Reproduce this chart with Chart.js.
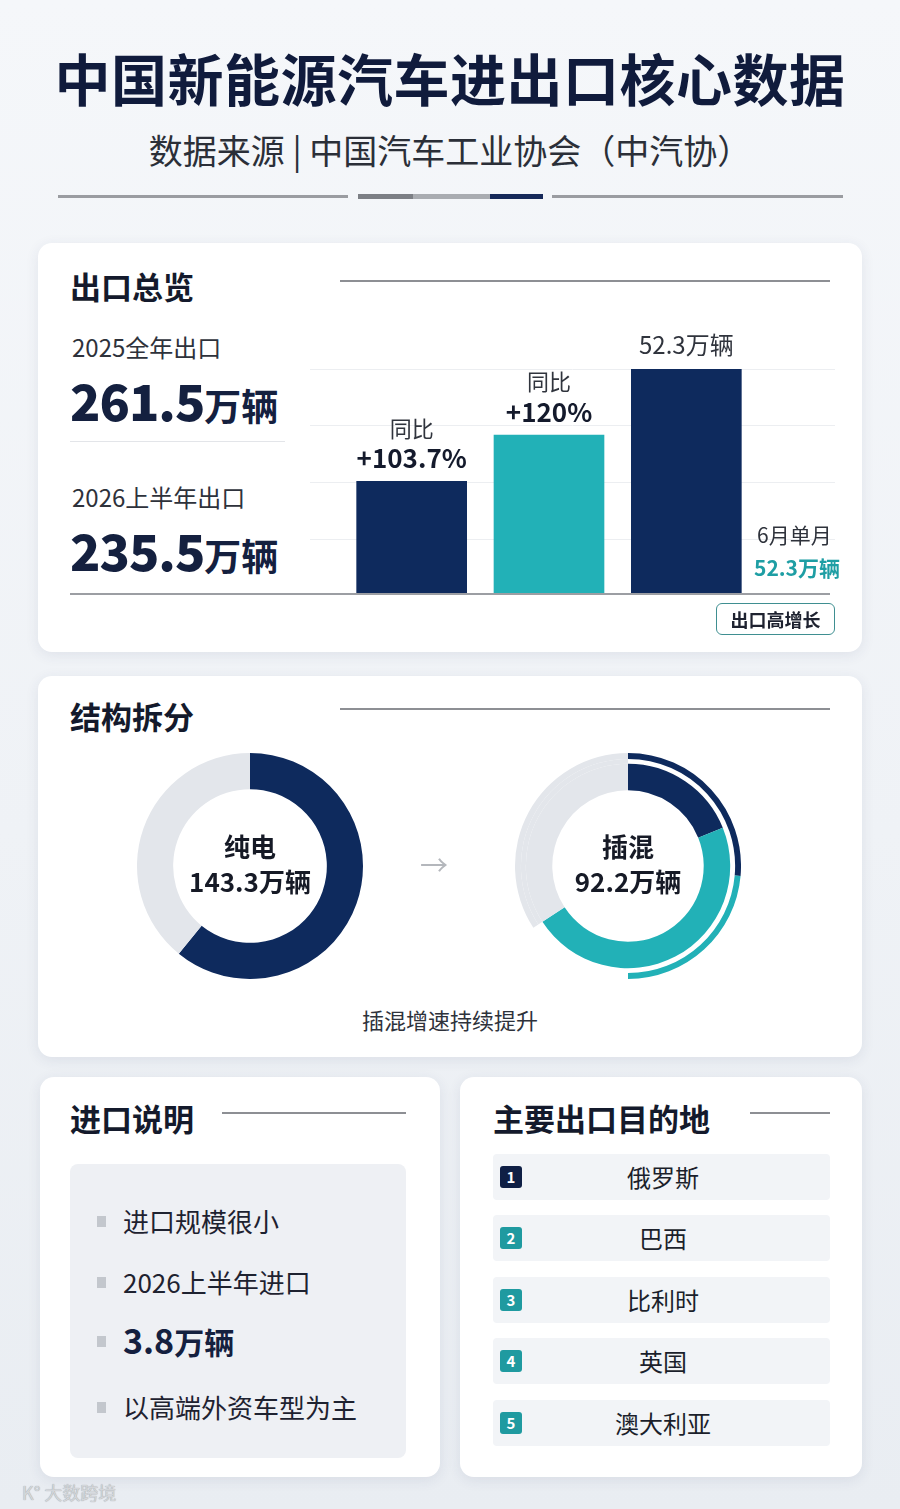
<!doctype html>
<html>
<head>
<meta charset="utf-8">
<title>中国新能源汽车进出口核心数据</title>
<script src="https://cdn.jsdelivr.net/npm/chart.js@4.4.0/dist/chart.umd.min.js"></script>
<style>
  body{margin:0;width:900px;height:1509px;position:relative;overflow:hidden;
    background:linear-gradient(180deg,#f5f7fa 0%,#eff2f6 55%,#e9edf2 100%);
    font-family:"Noto Sans CJK SC","Noto Sans",sans-serif;color:#1b1f2b}
  .a{position:absolute;line-height:1;white-space:nowrap}
  .card{position:absolute;background:#fff;border-radius:14px;box-shadow:0 3px 14px rgba(40,60,100,.09)}
  .h{font-weight:700;font-size:31px;color:#141a2c}
  .rule{position:absolute;height:2px;background:#8d8f94}
  .big{font-weight:700;color:#14203f;display:flex;align-items:baseline;height:50px}
  .big b{font-size:50px;letter-spacing:-1px;line-height:1}
  .big span{font-size:37px;line-height:1}
  .row{position:absolute;left:493px;width:337px;height:46px;background:#f2f4f7;border-radius:4px}
  .num{position:absolute;left:7px;top:12px;width:22px;height:22px;border-radius:3px;color:#fff;
    font-weight:700;font-size:15px;line-height:22px;text-align:center}
  .cty{position:absolute;left:0;width:340px;top:11px;text-align:center;font-size:24px;line-height:1;color:#1b1f2b}
  .bul{position:absolute;left:97px;width:9px;height:11px;background:#c3c7cd}
  .btxt{position:absolute;left:123px;font-size:26px;line-height:1;color:#1e2230}
  .ctr{position:absolute;width:226px;text-align:center;font-size:26px;font-weight:700;color:#161a26;line-height:1}
</style>
</head>
<body>

<div class="a" style="left:0;width:900px;top:49px;text-align:center;font-size:56px;font-weight:700;color:#101b3c;letter-spacing:0.5px">中国新能源汽车进出口核心数据</div>
<div class="a" style="left:0;width:900px;top:133px;text-align:center;font-size:34px;color:#2b2f38">数据来源&nbsp;|&nbsp;中国汽车工业协会（中汽协）</div>
<div class="a" style="left:58px;top:195px;width:290px;height:3px;background:#9a9ca1"></div>
<div class="a" style="left:358px;top:194px;width:55px;height:5px;background:#7c7f85"></div>
<div class="a" style="left:413px;top:194px;width:77px;height:5px;background:#a9acb1"></div>
<div class="a" style="left:490px;top:194px;width:53px;height:5px;background:#16295a"></div>
<div class="a" style="left:552px;top:195px;width:291px;height:3px;background:#9a9ca1"></div>

<!-- 出口总览 -->
<div class="card" style="left:38px;top:243px;width:824px;height:409px"></div>
<div class="a h" style="left:70px;top:270px">出口总览</div>
<div class="rule" style="left:340px;top:280px;width:490px"></div>
<div class="a" style="left:72px;top:335px;font-size:24px;color:#2e323b">2025全年出口</div>
<div class="a big" style="left:70px;top:374px"><b>261.5</b><span>万辆</span></div>
<div class="a" style="left:70px;top:441px;width:215px;height:1px;background:#e3e5e9"></div>
<div class="a" style="left:72px;top:485px;font-size:24px;color:#2e323b">2026上半年出口</div>
<div class="a big" style="left:70px;top:524px"><b>235.5</b><span>万辆</span></div>
<div id="barBox" class="a" style="left:310px;top:299px;width:525px;height:296px"><canvas id="bars"></canvas></div>
<div class="a" style="left:70px;top:593px;width:760px;height:2px;background:#9c9ea3"></div>
<div class="a" style="left:757px;top:524px;font-size:21px;color:#2e323b">6月单月</div>
<div class="a" style="left:754px;top:557px;font-size:21px;font-weight:700;color:#1e9ea4">52.3万辆</div>
<div class="a" style="left:716px;top:603px;width:117px;height:30px;border:1.5px solid #3f8f91;border-radius:6px;text-align:center;font-size:18px;font-weight:700;line-height:30px;color:#1e2230">出口高增长</div>

<!-- 结构拆分 -->
<div class="card" style="left:38px;top:676px;width:824px;height:381px"></div>
<div class="a h" style="left:70px;top:700px">结构拆分</div>
<div class="rule" style="left:340px;top:708px;width:490px"></div>
<div class="a" style="left:137px;top:753px;width:226px;height:226px"><canvas id="bev"></canvas></div>
<div class="ctr" style="left:137px;top:833px">纯电</div>
<div class="ctr" style="left:137px;top:868px">143.3万辆</div>
<div class="a" style="left:515px;top:753px;width:226px;height:226px"><canvas id="phev"></canvas></div>
<div class="ctr" style="left:515px;top:833px">插混</div>
<div class="ctr" style="left:515px;top:868px">92.2万辆</div>
<div class="a" style="left:420px;top:850px;font-size:28px;color:#b4b7bc">→</div>
<div class="a" style="left:0;width:900px;top:1008px;text-align:center;font-size:22px;color:#2e323b">插混增速持续提升</div>

<!-- 进口说明 -->
<div class="card" style="left:40px;top:1077px;width:400px;height:400px"></div>
<div class="a h" style="left:70px;top:1102px">进口说明</div>
<div class="rule" style="left:222px;top:1112px;width:184px"></div>
<div class="a" style="left:70px;top:1164px;width:336px;height:294px;background:#eef0f4;border-radius:8px"></div>
<div id="importList"></div>

<!-- 主要出口目的地 -->
<div class="card" style="left:460px;top:1077px;width:402px;height:400px"></div>
<div class="a h" style="left:493px;top:1102px">主要出口目的地</div>
<div class="rule" style="left:750px;top:1112px;width:80px"></div>
<div id="destList"></div>

<div class="a" style="left:22px;top:1483px;font-size:18px;color:#d3d6da;text-shadow:0 0 1px #8d9097">K°&nbsp;大数跨境</div>

<script>
// 出口柱状（无坐标轴，数值按柱高估读）
const barCats = ['同比+103.7%', '同比+120%', '6月单月'];
const barValues = [26.3, 37.0, 52.3];
const barTopLabels = ['同比', '同比', ''];
const barMainLabels = ['+103.7%', '+120%', '52.3万辆'];

// 结构拆分
const bevParts = ['纯电', '插混'];
const bevValues = [143.3, 92.2];
// 插混环（按图中弧长估读，%）
const phevInner = [18.9, 46.9, 34.2];
const phevOuter = [26.4, 23.6, 15.8, 34.2];
const phevGap = [65.8, 34.2];

// 文字列表
const importNotes = ['进口规模很小', '2026上半年进口', '3.8万辆', '以高端外资车型为主'];
const destinations = ['俄罗斯', '巴西', '比利时', '英国', '澳大利亚'];

const NAVY = '#0e2a5d', TEAL = '#22b1b7', GREY = '#e3e6eb';
const FONT = '"Noto Sans CJK SC", "Noto Sans", sans-serif';

// 列表
let imp = document.getElementById('importList');
const impY = [1208, 1269, 1328, 1394];
importNotes.forEach((t, i) => {
  let b = document.createElement('div');
  b.className = 'bul'; b.style.top = (impY[i] + 8) + 'px';
  imp.appendChild(b);
  let d = document.createElement('div');
  d.className = 'btxt'; d.style.top = impY[i] + 'px';
  if (i == 2) {
    d.innerHTML = '<span style="font-size:34px;font-weight:700;color:#14203f">3.8</span><span style="font-size:30px;font-weight:700;color:#14203f">万辆</span>';
    d.style.top = (impY[i] - 5) + 'px';
  } else d.textContent = t;
  imp.appendChild(d);
});
let dest = document.getElementById('destList');
const rowY = [1154, 1215, 1277, 1338, 1400];
destinations.forEach((c, i) => {
  let r = document.createElement('div');
  r.className = 'row'; r.style.top = rowY[i] + 'px';
  r.innerHTML = '<div class="num" style="background:' + (i == 0 ? '#0f1f45' : '#1f9aa0') + '">' + (i + 1) + '</div><div class="cty">' + c + '</div>';
  dest.appendChild(r);
});

// 柱上文字 + 满宽网格线
const barDeco = {
  id: 'barDeco',
  beforeDatasetsDraw(chart) {
    const ctx = chart.ctx, y = chart.scales.y;
    ctx.save();
    ctx.strokeStyle = '#eceef1'; ctx.lineWidth = 1;
    y.ticks.forEach(t => {
      const py = Math.round(y.getPixelForValue(t.value)) + 0.5;
      ctx.beginPath(); ctx.moveTo(0, py); ctx.lineTo(chart.width, py); ctx.stroke();
    });
    ctx.restore();
  },
  afterDatasetsDraw(chart) {
    const ctx = chart.ctx;
    ctx.save();
    ctx.textAlign = 'center'; ctx.textBaseline = 'middle';
    chart.getDatasetMeta(0).data.forEach((bar, i) => {
      if (barTopLabels[i]) {
        ctx.fillStyle = '#30343d'; ctx.font = '22px ' + FONT;
        ctx.fillText(barTopLabels[i], bar.x, bar.y - 53);
        ctx.fillStyle = '#141a2c'; ctx.font = 'bold 26px ' + FONT;
        ctx.fillText(barMainLabels[i], bar.x, bar.y - 23);
      } else {
        ctx.fillStyle = '#30343d'; ctx.font = '24px ' + FONT;
        ctx.fillText(barMainLabels[i], bar.x, bar.y - 24);
      }
    });
    ctx.restore();
  }
};

Chart.defaults.animation = false;
Chart.defaults.font.family = FONT;

new Chart(document.getElementById('bars'), {
  type: 'bar',
  data: {
    labels: barCats,
    datasets: [{ data: barValues, backgroundColor: [NAVY, TEAL, NAVY], barThickness: 110, borderWidth: 0 }]
  },
  options: {
    responsive: true, maintainAspectRatio: false,
    layout: { padding: { top: 70, left: 33, right: 80, bottom: 0 } },
    plugins: { legend: { display: false }, tooltip: { enabled: false } },
    scales: {
      x: { display: false },
      y: { display: false, min: 0, max: 52.3, ticks: { stepSize: 52.3 / 4 } }
    }
  },
  plugins: [barDeco]
});

new Chart(document.getElementById('bev'), {
  type: 'doughnut',
  data: { labels: bevParts, datasets: [{ data: bevValues, backgroundColor: [NAVY, GREY], borderWidth: 0, hoverOffset: 0 }] },
  options: {
    responsive: true, maintainAspectRatio: false, cutout: '68%',
    plugins: { legend: { display: false }, tooltip: { enabled: false } }
  }
});

new Chart(document.getElementById('phev'), {
  type: 'doughnut',
  data: {
    datasets: [
      { data: phevOuter, backgroundColor: [NAVY, TEAL, 'rgba(0,0,0,0)', GREY], borderWidth: 0, weight: 6 },
      { data: phevGap, backgroundColor: ['rgba(0,0,0,0)', GREY], borderWidth: 0, weight: 5 },
      { data: phevInner, backgroundColor: [NAVY, TEAL, GREY], borderWidth: 0, weight: 27 }
    ]
  },
  options: {
    responsive: true, maintainAspectRatio: false, cutout: '67%',
    plugins: { legend: { display: false }, tooltip: { enabled: false } }
  }
});
</script>
</body>
</html>
